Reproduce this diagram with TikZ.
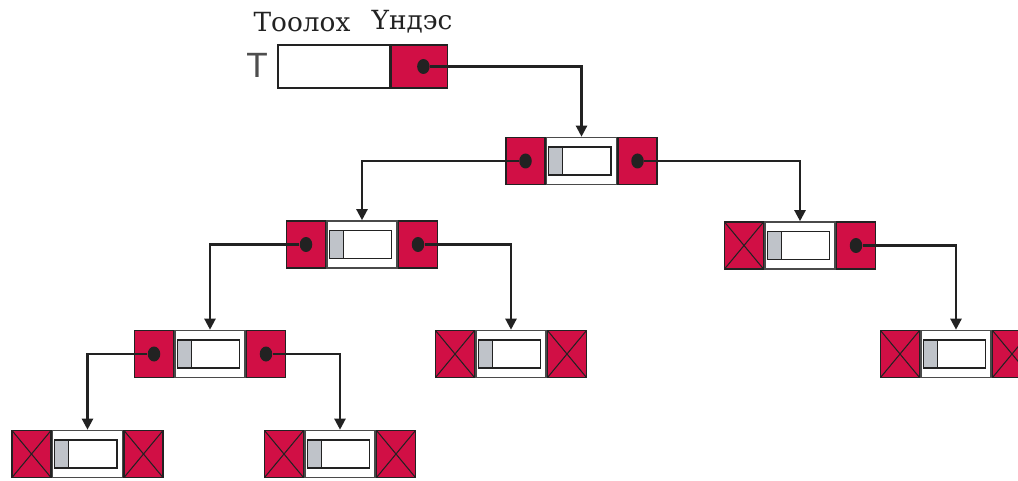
\documentclass[tikz,border=0pt]{standalone}
\usepackage{fontspec}
\newfontfamily\labelfont{DejaVu Serif}
\newfontfamily\tfont{Liberation Sans}
\usetikzlibrary{arrows.meta,shapes.geometric}
\definecolor{ink}{HTML}{222222}
\definecolor{edge}{HTML}{4A4A4A}
\definecolor{crim}{HTML}{D10F45}
\definecolor{slotgray}{HTML}{BFC3C9}
\tikzset{
  cell/.style={draw=ink, line width=0.8pt, fill=crim, minimum width=0.78cm,
               minimum height=0.94cm, inner sep=0pt},
  nil/.style={cell, path picture={
      \draw[ink, line width=0.6pt]
        (path picture bounding box.south west) -- (path picture bounding box.north east)
        (path picture bounding box.north west) -- (path picture bounding box.south east);}},
  mid/.style={draw=edge, line width=0.9pt, fill=white, minimum width=1.4cm,
              minimum height=0.94cm, inner sep=0pt},
  slot/.style={draw=ink, line width=0.7pt, fill=white, minimum width=1.24cm,
               minimum height=0.56cm, inner sep=0pt},
  tag/.style={draw=ink, line width=0.6pt, fill=slotgray, minimum width=0.28cm,
              minimum height=0.56cm, inner sep=0pt},
  dot/.style={ellipse, fill=ink, minimum width=0.25cm, minimum height=0.3cm, inner sep=0pt},
  link/.style={-{Triangle[length=2.2mm,width=2.2mm]}, line width=1.3pt, draw=ink},
  hdr/.style={font=\labelfont\fontsize{15}{18}\selectfont, text=ink, inner sep=0pt},
}
% tree node: name, position, left cell style, right cell style
\newcommand{\tnode}[4]{%
  \node[mid] (#1) at (#2) {};
  \node[slot] (#1s) at ([xshift=-0.03cm]#1.center) {};
  \node[tag, anchor=west] at (#1s.west) {};
  \node[#3, anchor=east] (#1l) at (#1.west) {};
  \node[#4, anchor=west] (#1r) at (#1.east) {};
}

\begin{document}
\begin{tikzpicture}
\useasboundingbox (0,0) rectangle (20.36,-9.62);
% header: counter + root pointer
\node[hdr] at (6.04,-0.44) {Тоолох};
\node[hdr] at (8.24,-0.44) {Үндэс};
\node[font=\tfont\fontsize{20}{24}\selectfont, text=ink!80] (tl) at (5.14,-1.3) {T};
\node[draw=ink, line width=0.8pt, fill=white, minimum width=2.24cm, minimum height=0.86cm,
      inner sep=0pt] (cnt) at (6.68,-1.33) {};
\node[cell, minimum width=1.12cm, minimum height=0.86cm, anchor=west] (root) at (cnt.east) {};
\node[dot] (rootd) at ([xshift=0.08cm]root.center) {};
% nodes
\tnode{A}{11.63,-3.22}{cell}{cell}
\tnode{B}{7.24,-4.89}{cell}{cell}
\tnode{C}{16.0,-4.91}{nil}{cell}
\tnode{D}{4.2,-7.08}{cell}{cell}
\tnode{E}{10.22,-7.08}{nil}{nil}
\tnode{F}{19.12,-7.08}{nil}{nil}
\tnode{G}{1.75,-9.08}{nil}{nil}
\tnode{H}{6.8,-9.08}{nil}{nil}
\foreach \p in {Al,Ar,Bl,Br,Cr,Dl,Dr}{ \node[dot] (\p d) at (\p) {}; }
% links
\draw[link] (rootd) -| (A.north);
\draw[link] (Ald) -| (B.north);
\draw[link] (Ard) -| (C.north);
\draw[link] (Bld) -| (D.north);
\draw[link] (Brd) -| (E.north);
\draw[link] (Crd) -| (F.north);
\draw[link] (Dld) -| (G.north);
\draw[link] (Drd) -| (H.north);
\end{tikzpicture}
\end{document}
